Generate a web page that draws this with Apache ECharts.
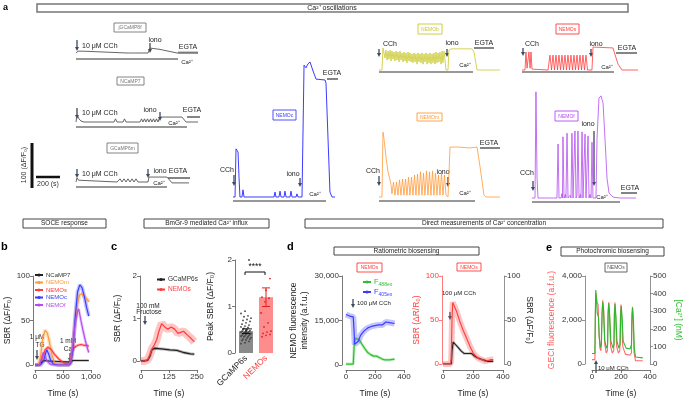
<!DOCTYPE html>
<html><head><meta charset="utf-8">
<script src="https://cdn.jsdelivr.net/npm/echarts@6/dist/echarts.min.js"></script>
<style>html,body{margin:0;padding:0;background:#fff}#c{width:685px;height:400px}</style>
</head><body><div id="c"></div>
<script>
// ---------- DATA ----------
// Panel a traces: [time (s), ΔF/F0]
const traceJGCaMP8f = [[0,0],[17,4],[25,0],[42,4],[50,0],[67,4],[75,0],[425,0],[433,4],[446,0],[458,4],[471,0],[483,4],[496,0],[508,4],[521,0],[600,0],[617,11],[700,8],[842,0],[1017,0]];
const traceNCaMP7 = [[0,0],[8,16],[25,7],[42,2],[67,0],[317,0],[329,7],[342,0],[392,0],[404,7],[417,0],[533,0],[546,7],[558,0],[571,7],[583,0],[596,7],[608,0],[621,7],[633,0],[646,7],[658,0],[671,7],[683,0],[692,0],[700,11],[883,11],[917,0],[1017,0]];
const traceGCaMP6m = [[0,0],[8,9],[21,4],[33,0],[342,0],[350,0],[367,7],[383,0],[400,7],[417,0],[433,7],[450,0],[467,7],[483,0],[500,7],[517,0],[583,0],[600,0],[608,11],[758,11],[800,-2],[942,-2]];
const traceNEMOc = [[0,0],[17,0],[25,107],[33,111],[42,100],[50,44],[58,0],[75,0],[83,16],[92,0],[342,0],[350,11],[358,0],[383,0],[392,13],[400,0],[425,0],[433,13],[442,0],[475,0],[483,13],[492,0],[525,0],[533,7],[542,0],[575,0],[592,293],[608,287],[625,296],[642,300],[667,280],[692,262],[708,260],[767,260],[775,253],[808,11],[825,0],[850,0]];
const traceNEMOb = [[0,0],[25,0],[33,49],[42,47],[50,27],[58,44],[67,22],[75,42],[83,24],[92,44],[100,20],[108,42],[117,24],[125,40],[133,20],[142,42],[150,22],[158,40],[167,18],[175,42],[183,22],[192,38],[200,18],[208,40],[217,20],[225,38],[233,16],[242,40],[250,20],[258,38],[267,18],[275,36],[283,16],[292,38],[300,18],[308,36],[317,13],[325,38],[333,18],[342,36],[350,16],[358,38],[367,13],[375,36],[383,18],[392,38],[400,13],[408,36],[417,16],[425,38],[433,13],[442,36],[450,16],[458,38],[467,13],[475,40],[483,16],[492,38],[500,18],[508,40],[517,13],[525,42],[533,16],[542,42],[550,22],[558,0],[575,0],[583,44],[600,47],[775,47],[792,40],[817,0],[1008,0]];
const traceNEMOs = [[0,0],[25,0],[33,40],[42,4],[50,0],[58,40],[67,4],[75,40],[83,2],[92,0],[217,0],[225,0],[233,33],[246,0],[258,33],[271,0],[283,33],[296,0],[308,33],[321,0],[333,33],[346,0],[358,33],[371,0],[383,33],[396,0],[408,33],[421,0],[433,33],[446,0],[458,33],[471,0],[483,33],[496,0],[508,33],[521,0],[533,33],[546,0],[583,0],[592,51],[758,49],[800,13],[833,0],[967,0]];
const traceNEMOm = [[0,0],[25,0],[33,144],[42,129],[58,89],[75,56],[92,38],[100,27],[108,7],[121,33],[133,4],[146,33],[158,4],[171,38],[183,4],[196,40],[208,4],[221,40],[233,4],[246,44],[258,4],[271,44],[283,4],[296,49],[308,4],[321,51],[333,4],[346,56],[358,4],[371,53],[383,4],[396,58],[408,4],[421,56],[433,4],[446,58],[458,4],[471,53],[483,4],[496,49],[508,4],[521,53],[533,4],[546,49],[558,4],[575,0],[583,4],[592,111],[658,111],[758,109],[817,111],[842,67],[875,4],[892,0],[1008,0]];
const traceNEMOf = [[0,0],[25,0],[33,236],[42,44],[50,0],[208,0],[217,120],[225,0],[242,0],[250,10],[254,0],[258,136],[267,0],[279,8],[283,0],[292,144],[300,0],[317,6],[325,0],[333,144],[342,0],[358,149],[367,0],[375,6],[383,149],[392,0],[404,8],[408,0],[417,147],[425,0],[442,142],[450,0],[467,138],[475,0],[483,8],[492,0],[500,124],[508,0],[533,0],[542,133],[558,222],[575,227],[592,211],[608,133],[625,44],[642,11],[675,2],[733,0],[867,0]];

// Panel b: SOCE response, [time (s), SBR]
const socTicksX = [0, 500, 1000], socTicksY = [0, 50, 100];
const socNCaMP7 = [[0,0],[60,0],[100,2],[150,5],[250,4.5],[400,4],[550,3.5],[620,3.5],[680,5],[800,5],[960,5]];
const socNEMOm = [[0,0],[60,0],[100,10],[140,30],[180,39],[220,36],[260,25],[300,12],[340,4],[380,1],[450,0],[600,0],[640,5],[680,25],[720,50],[760,70],[800,79],[840,80],[880,77],[930,74],[960,71]];
const socNEMOs = [[0,0],[80,0],[130,8],[180,17],[230,20],[280,18],[350,12],[420,7],[500,3],[560,1],[610,1],[640,6],[670,15],[700,20],[760,22],[820,23],[880,22],[930,22],[960,21]];
const socNEMOc = [[0,0],[100,0],[150,4],[190,13],[210,17],[240,13],[280,5],[330,1],[400,0],[600,0],[640,2],[680,20],[720,55],[760,82],[800,90],[840,87],[880,77],[920,65],[960,55]];
const socNEMOf = [[0,0],[80,0],[110,6],[150,14],[180,10],[220,4],[270,1],[320,0],[600,0],[640,3],[680,25],[720,48],[760,60],[780,63],[820,50],[860,38],[900,27],[940,18],[960,14]];

// Panel c: BmGr-9, [time (s), SBR]
const bmTicksX = [0, 125, 250], bmTicksY = [0, 1, 2];
const bmGCaMP6s = [[0,0],[15,0],[30,0.02],[40,0.12],[48,0.26],[60,0.3],[80,0.29],[100,0.28],[130,0.26],[160,0.25],[190,0.2],[220,0.17],[238,0.16]];
const bmNEMOs = [[0,0],[15,0],[30,0.03],[40,0.15],[50,0.3],[60,0.38],[70,0.5],[80,0.7],[92,0.88],[100,0.85],[110,0.78],[120,0.75],[135,0.8],[150,0.75],[165,0.65],[180,0.68],[190,0.7],[205,0.62],[220,0.55],[238,0.45]];
const peakCats = ['GCaMP6s', 'NEMOs'];
const peakMeans = [0.47, 1.2];
const peakErr = [[0.42, 0.52], [1.0, 1.4]];
const peakPtsGCaMP6s = [0.2,0.22,0.25,0.27,0.28,0.3,0.3,0.32,0.33,0.35,0.35,0.36,0.37,0.38,0.38,0.4,0.4,0.41,0.42,0.42,0.43,0.44,0.45,0.45,0.46,0.47,0.48,0.48,0.5,0.5,0.52,0.53,0.55,0.56,0.58,0.6,0.62,0.65,0.68,0.7,0.72,0.75,0.78,0.8,0.85,0.9,2.0];
const peakPtsNEMOs = [0.35,0.38,0.4,0.42,0.45,0.47,0.56,0.65,0.86,1.1,1.18,1.2,1.35,1.6];

// Panel d: ratiometric, [time (s), value]
const ratTicksX = [0, 200, 400];
const ratF488 = [[0,300],[50,300],[55,300],[58,8000],[65,9000],[75,9500],[90,8500],[110,7000],[130,5500],[150,4200],[170,3500],[190,3000],[210,3000],[230,2500],[250,2000],[270,1700],[300,1700],[335,2000]];
const ratF405 = [[0,17000],[25,16500],[50,16200],[55,12000],[60,7000],[70,6500],[85,8000],[100,10000],[125,11500],[150,12500],[175,13000],[200,13300],[225,13500],[250,13500],[275,14500],[300,14300],[335,14000]];
const ratSBR_R = [[0,0],[50,0],[55,5],[60,50],[65,70],[75,68],[90,60],[113,48],[135,38],[158,29],[180,20],[200,13],[220,9],[240,6],[258,5],[280,3],[300,4],[320,5],[335,5]];
const ratSBR_F = [[0,0],[55,0],[60,15],[68,25],[80,24],[100,19],[120,15],[140,12],[165,12],[190,12],[210,9],[230,7],[260,5],[300,3],[335,3]];

// Panel e: photochromic, [time (s), value]
const phoGECI = [[0,200],[20,200],[24,2500],[28,3200],[35,2800],[42,2700],[48,1500],[55,700],[62,600],[68,2000],[74,2900],[80,2500],[88,900],[98,500],[106,600],[110,2200],[115,2800],[120,2300],[128,800],[140,500],[150,600],[154,2200],[158,2800],[163,2200],[170,800],[182,500],[192,600],[196,2200],[200,2700],[205,2100],[212,800],[230,450],[260,400],[272,500],[275,2000],[279,2600],[284,2000],[290,500],[300,150],[350,150]];
const phoCa = [[0,60],[20,60],[23,300],[26,420],[30,380],[36,290],[44,270],[50,150],[58,95],[65,110],[70,300],[74,350],[80,300],[88,130],[100,90],[108,110],[112,300],[116,345],[122,280],[130,130],[145,90],[152,110],[155,300],[159,340],[165,270],[172,130],[185,90],[194,110],[198,290],[202,330],[208,260],[215,130],[235,90],[262,85],[272,110],[276,280],[280,320],[286,240],[292,90],[300,40],[350,35]];

// ---------- BUILD ----------
const FONT = '"Liberation Sans", Arial, Helvetica, sans-serif';
const C = {blue:'#3c3cff', yellow:'#c9c92e', orange:'#ff9a3a', red:'#ff3b3b', purple:'#b44cf0', green:'#2fbf2f', black:'#222', arrow:'#3e4a5e'};
const PX_S = 24/200, PX_U = 45/100; // from scale bar: 200 s and 100 ΔF/F0
const grids = [], xAxes = [], yAxes = [], series = [], G = [], legends = [];

function traceA(data, x0, yb, w, up, color, lw){
  grids.push({left:x0, top:yb-up, width:w, height:up+6});
  const gi = grids.length-1;
  xAxes.push({gridIndex:gi, type:'value', min:0, max:w/PX_S, show:false});
  yAxes.push({gridIndex:gi, type:'value', min:-6/PX_U, max:up/PX_U, show:false});
  series.push({type:'line', xAxisIndex:xAxes.length-1, yAxisIndex:yAxes.length-1, data:data, showSymbol:false, symbol:'none', lineStyle:{color:color, width:lw||0.9}, silent:true});
}
function ax(o){
  const col = o.lineColor || '#555';
  return Object.assign({
    type:'value', splitLine:{show:false},
    axisLine:{show:true, onZero:false, lineStyle:{color:col, width:0.8}},
    axisTick:{show:true, length:3, lineStyle:{color:col, width:0.8}},
    axisLabel:{fontSize:8, color:o.labelColor||'#333', margin:3, fontFamily:FONT, formatter:o.fmt},
    nameLocation:'middle',
    nameTextStyle:{fontSize:8.5, color:o.nameColor||'#222', fontFamily:FONT, lineHeight:11}
  }, o.extra);
}
function lineS(xi, yi, data, color, name, bandW, lw){
  if (bandW) series.push({type:'line', name:name+' band', xAxisIndex:xi, yAxisIndex:yi, data:data, showSymbol:false, symbol:'none', lineStyle:{color:color, width:bandW, opacity:0.3}, z:1});
  series.push({type:'line', name:name, xAxisIndex:xi, yAxisIndex:yi, data:data, showSymbol:false, symbol:'circle', symbolSize:3, itemStyle:{color:color}, lineStyle:{color:color, width:lw||1.2}, z:2});
}
const comma = v => v.toLocaleString('en-US');

// panel a traces
traceA(traceJGCaMP8f, 76, 53, 122, 10, '#555');
traceA(traceNCaMP7, 76, 122, 122, 10, '#555');
traceA(traceGCaMP6m, 76, 182, 113, 10, '#555');
traceA(traceNEMOc, 233, 197, 102, 140, C.blue, 1);
traceA(traceNEMOb, 379, 70, 121, 25, C.yellow, 0.8);
traceA(traceNEMOs, 522, 70, 116, 25, C.red, 0.8);
traceA(traceNEMOm, 379, 197, 121, 70, C.orange, 0.8);
traceA(traceNEMOf, 532, 198, 104, 110, C.purple, 0.8);

// panel b
grids.push({left:35, top:276, width:56, height:91});
let gi = grids.length-1;
xAxes.push(ax({extra:{gridIndex:gi, min:socTicksX[0], max:socTicksX[2], interval:socTicksX[1], offset:5, name:'Time (s)', nameGap:18}, fmt:comma}));
yAxes.push(ax({extra:{gridIndex:gi, min:socTicksY[0], max:socTicksY[2], interval:socTicksY[1], offset:2, name:'SBR (ΔF/F₀)', nameGap:18, nameRotate:90}}));
let xi = xAxes.length-1, yi = yAxes.length-1;
lineS(xi, yi, socNCaMP7, C.black, 'NCaMP7', 2.5, 1.1);
lineS(xi, yi, socNEMOm, C.orange, 'NEMOm', 4, 1.2);
lineS(xi, yi, socNEMOs, C.red, 'NEMOs', 3, 1.2);
lineS(xi, yi, socNEMOc, C.blue, 'NEMOc', 4, 1.2);
lineS(xi, yi, socNEMOf, C.purple, 'NEMOf', 3, 1.2);
legends.push({left:34, top:272, orient:'vertical', itemWidth:8, itemHeight:4, itemGap:1.5, padding:0,
  textStyle:{fontSize:6, fontFamily:FONT, padding:[0,0,0,-2]},
  data:[{name:'NCaMP7',textStyle:{color:'#333'}},{name:'NEMOm',textStyle:{color:C.orange}},{name:'NEMOs',textStyle:{color:C.red}},{name:'NEMOc',textStyle:{color:C.blue}},{name:'NEMOf',textStyle:{color:C.purple}}]});

// panel c line
grids.push({left:141, top:276, width:56, height:87});
gi = grids.length-1;
xAxes.push(ax({extra:{gridIndex:gi, min:bmTicksX[0], max:bmTicksX[2], interval:bmTicksX[1], offset:9, name:'Time (s)', nameGap:18}}));
yAxes.push(ax({extra:{gridIndex:gi, min:bmTicksY[0], max:bmTicksY[2], interval:bmTicksY[1], offset:1, name:'SBR (ΔF/F₀)', nameGap:17, nameRotate:90}}));
xi = xAxes.length-1; yi = yAxes.length-1;
lineS(xi, yi, bmGCaMP6s, C.black, 'GCaMP6s', 3, 1.3);
lineS(xi, yi, bmNEMOs, C.red, 'NEMOs ', 8, 1.2);
legends.push({left:156, top:276, orient:'vertical', itemWidth:8, itemHeight:4, itemGap:3, padding:0,
  textStyle:{fontSize:6.5, fontFamily:FONT, padding:[0,0,0,-2]},
  data:[{name:'GCaMP6s',textStyle:{color:'#333'}},{name:'NEMOs ',textStyle:{color:C.red}}]});

// panel c bars
grids.push({left:236, top:260, width:40, height:93});
gi = grids.length-1;
xAxes.push({gridIndex:gi, type:'category', data:peakCats, axisLine:{show:false}, axisTick:{show:false},
  axisLabel:{rotate:45, fontSize:8.5, fontFamily:FONT, margin:4, color:(v,i)=> i===1 ? C.red : '#222'}});
yAxes.push(ax({extra:{gridIndex:gi, min:bmTicksY[0], max:bmTicksY[2], interval:bmTicksY[1], offset:1, name:'Peak SBR (ΔF/F₀)', nameGap:19, nameRotate:90}}));
xi = xAxes.length-1; yi = yAxes.length-1;
series.push({type:'bar', xAxisIndex:xi, yAxisIndex:yi, barWidth:14, z:1,
  data:peakMeans.map((v,i)=>({value:v, itemStyle:{color: i===0 ? '#8a8a8a' : '#ff8c8c'}}))});
const ptsData = peakPtsGCaMP6s.map(v=>[0,v]).concat(peakPtsNEMOs.map(v=>[1,v]));
series.push({type:'custom', xAxisIndex:xi, yAxisIndex:yi, z:3, data:ptsData,
  renderItem:(p, api)=>{ const c = api.coord([api.value(0), api.value(1)]); const j = (((p.dataIndex*37)%11)-5)*1.0;
    return {type:'circle', shape:{cx:c[0]+j, cy:c[1], r:0.9}, style:{fill: api.value(0)===0 ? '#444' : '#e02020'}}; }});
series.push({type:'custom', xAxisIndex:xi, yAxisIndex:yi, z:4, data:peakErr.map((e,i)=>[i,e[0],e[1]]),
  renderItem:(p, api)=>{ const lo = api.coord([api.value(0), api.value(1)]), hi = api.coord([api.value(0), api.value(2)]); const col = api.value(0)===0 ? '#111' : '#e81e1e'; const w = 4;
    return {type:'group', children:[
      {type:'line', shape:{x1:lo[0],y1:lo[1],x2:hi[0],y2:hi[1]}, style:{stroke:col, lineWidth:1}},
      {type:'line', shape:{x1:lo[0]-w,y1:lo[1],x2:lo[0]+w,y2:lo[1]}, style:{stroke:col, lineWidth:1}},
      {type:'line', shape:{x1:hi[0]-w,y1:hi[1],x2:hi[0]+w,y2:hi[1]}, style:{stroke:col, lineWidth:1}}]}; }});

// panel d left
grids.push({left:346, top:276, width:58, height:91});
gi = grids.length-1;
xAxes.push(ax({extra:{gridIndex:gi, min:ratTicksX[0], max:ratTicksX[2], interval:ratTicksX[1], offset:5, name:'Time (s)', nameGap:18}}));
yAxes.push(ax({extra:{gridIndex:gi, min:0, max:30000, interval:15000, offset:4, name:'NEMO fluorescence\nintensity (a.f.u.)', nameGap:30, nameRotate:90}, fmt:comma}));
xi = xAxes.length-1; yi = yAxes.length-1;
lineS(xi, yi, ratF488, C.green, 'F488ex', 3, 1.2);
lineS(xi, yi, ratF405, C.blue, 'F405ex', 6, 1.2);
legends.push({left:362, top:278, orient:'vertical', itemWidth:8, itemHeight:4, itemGap:1, padding:0,
  formatter: n => 'F{s|' + n.slice(1) + '}',
  textStyle:{fontSize:7.5, fontFamily:FONT, padding:[0,0,0,-2], rich:{s:{fontSize:5, padding:[5,0,0,0]}}},
  data:[{name:'F488ex',textStyle:{color:C.green}},{name:'F405ex',textStyle:{color:C.blue}}]});

// panel d right
grids.push({left:443, top:276, width:60, height:90});
gi = grids.length-1;
xAxes.push(ax({extra:{gridIndex:gi, min:ratTicksX[0], max:ratTicksX[2], interval:ratTicksX[1], offset:6, name:'Time (s)', nameGap:18}}));
yAxes.push(ax({lineColor:'#ff5a5a', labelColor:'#ff4040', nameColor:'#ff4040', extra:{gridIndex:gi, min:0, max:100, interval:50, offset:1, name:'SBR (ΔR/R₀)', nameGap:16, nameRotate:90}}));
yAxes.push(ax({lineColor:'#777', extra:{gridIndex:gi, position:'right', min:0, max:100, interval:50, offset:1, name:'SBR (ΔF/F₀)', nameGap:18, nameRotate:-90}}));
xi = xAxes.length-1;
lineS(xi, yAxes.length-1, ratSBR_F, C.black, 'SBR F', 2.5, 1.1);
lineS(xi, yAxes.length-2, ratSBR_R, C.red, 'SBR R', 6, 1.1);

// panel e
grids.push({left:592, top:276, width:61, height:90});
gi = grids.length-1;
xAxes.push(ax({extra:{gridIndex:gi, min:ratTicksX[0], max:ratTicksX[2], interval:ratTicksX[1], offset:6, name:'Time (s)', nameGap:18}}));
yAxes.push(ax({lineColor:'#777', nameColor:'#ff5a5a', extra:{gridIndex:gi, min:0, max:4000, interval:2000, offset:7, name:'GECI fluorescence (a.f.u.)', nameGap:28, nameRotate:90}, fmt:comma}));
yAxes.push(ax({lineColor:'#777', nameColor:'#2fbf2f', extra:{gridIndex:gi, position:'right', min:0, max:500, interval:100, offset:0, name:'[Ca²⁺] (nM)', nameGap:23, nameRotate:-90}}));
xi = xAxes.length-1;
lineS(xi, yAxes.length-2, phoGECI, '#ff6a6a', 'GECI', 0, 1.1);
lineS(xi, yAxes.length-1, phoCa, '#2db82d', 'Ca', 0, 1.1);

// ---------- ANNOTATIONS ----------
function T(x, y, s, size, color, align, extra){
  G.push(Object.assign({type:'text', x:x, y:y, silent:true, style:{text:s, fontSize:size, fontFamily:FONT, fill:color||'#222',
    align:align||'center', textAlign:align||'center', verticalAlign:'middle', textVerticalAlign:'middle', fontWeight:(extra&&extra.bold)?'bold':'normal'}}, extra&&extra.el));
}
function R(x, y, w, h, stroke, lw){ G.push({type:'rect', silent:true, shape:{x:x, y:y, width:w, height:h}, style:{fill:'none', stroke:stroke||'#555', lineWidth:lw||1}}); }
function L(x1, y1, x2, y2, stroke, lw){ G.push({type:'line', silent:true, shape:{x1:x1, y1:y1, x2:x2, y2:y2}, style:{stroke:stroke||'#333', lineWidth:lw||1.2}}); }
function A(x, y1, y2){ // arrow from y1 to y2 (head at y2)
  const d = y2 > y1 ? 1 : -1;
  L(x, y1, x, y2 - d*3, C.arrow, 1.3);
  G.push({type:'polygon', silent:true, shape:{points:[[x-2, y2-d*4],[x+2, y2-d*4],[x, y2]]}, style:{fill:C.arrow}});
}
function box(x, y, w, h, s, color){ R(x, y, w, h, color, 0.9); T(x+w/2, y+h/2+0.3, s, 5, color); }

// banners & panel letters
R(37, 4, 591, 8, '#777', 1.5); T(332, 8, 'Ca²⁺ oscillations', 7);
T(3, 8, 'a', 9, '#000', 'left', {bold:true});
R(23, 219, 83, 9, '#444', 1); T(64.5, 223.7, 'SOCE response', 6.5);
R(144, 219, 125, 9, '#444', 1); T(206.5, 223.7, 'BmGr-9 mediated Ca²⁺ influx', 6.5);
R(305, 219, 358, 9, '#444', 1); T(484, 223.7, 'Direct measurements of Ca²⁺ concentration', 6.5);
R(334, 247, 145, 8, '#444', 1); T(406.5, 251.2, 'Ratiometric biosensing', 6.5);
R(561, 247, 103, 9, '#444', 1); T(612.5, 251.7, 'Photochromic biosensing', 6.5);
T(1, 247, 'b', 11, '#000', 'left', {bold:true});
T(111, 247, 'c', 11, '#000', 'left', {bold:true});
T(287, 247, 'd', 11, '#000', 'left', {bold:true});
T(546, 248, 'e', 11, '#000', 'left', {bold:true});

// scale bar
L(32, 143, 32, 188, '#111', 3); L(36, 177, 60, 177, '#111', 2.5);
T(24, 165, '100 (ΔF/F₀)', 7, '#333', 'center', {el:{rotation:Math.PI/2}});
T(48, 184, '200 (s)', 7, '#333');

// panel a labels
box(114, 23, 32, 9, 'jGCaMP8f', '#777');
box(117, 77, 27, 8, 'NCaMP7', '#777');
box(107, 143, 31, 10, 'GCaMP6m', '#777');
box(273, 110, 23, 10, 'NEMOc', C.blue);
box(418, 24, 24, 10, 'NEMOb', C.yellow);
box(417, 113, 25, 8, 'NEMOm', C.orange);
box(556, 24, 23, 10, 'NEMOs', C.red);
box(555, 111, 23, 10, 'NEMOf', C.purple);

const FS = 7;
// jGCaMP8f
L(76, 59, 178, 59, '#333', 1.2); L(178, 52.5, 198, 52.5, '#999', 2);
T(82, 46, '10 μM CCh', FS, '#222', 'left'); A(77, 40, 51); T(155, 40, 'iono', FS); A(150, 43, 53); T(188, 47, 'EGTA', FS); T(187, 62, 'Ca²⁺', 6);
// NCaMP7
L(76, 127, 187, 127, '#333', 1.2); L(187, 117, 200, 117, '#333', 1.2);
T(82, 113, '10 μM CCh', FS, '#222', 'left'); A(77, 108, 119); T(150, 110, 'iono', FS); A(160, 112, 121); T(192, 110, 'EGTA', FS); T(174, 123, 'Ca²⁺', 6);
// GCaMP6m
L(76, 187, 167, 187, '#333', 1.2); L(168, 178, 190, 178, '#333', 1.2);
T(82, 174, '10 μM CCh', FS, '#222', 'left'); A(77, 169, 178); T(160, 171, 'iono', FS); A(148, 169, 178); T(178, 171, 'EGTA', FS); T(159, 183, 'Ca²⁺', 6);
// NEMOc
L(233, 201, 326, 201, '#333', 1.2); L(327, 79, 338, 79, '#333', 1.2);
T(227, 170, 'CCh', FS); A(234, 175, 186); T(293, 174, 'iono', FS); A(300, 178, 187); T(332, 73, 'EGTA', FS); T(315, 194, 'Ca²⁺', 6);
// NEMOb
L(379, 72, 473, 72, '#333', 1.2); L(474, 48, 494, 48, '#333', 1.2);
T(390, 44, 'CCh', FS); A(379, 49, 57); T(452, 43, 'iono', FS); A(447, 49, 57); T(484, 43, 'EGTA', FS); T(465, 65, 'Ca²⁺', 6);
// NEMOs
L(522, 72, 614, 72, '#333', 1.2); L(616, 53, 637, 53, '#333', 1.2);
T(532, 44, 'CCh', FS); A(523, 48, 56); T(596, 44, 'iono', FS); A(591, 49, 57); T(627, 48, 'EGTA', FS); T(607, 67, 'Ca²⁺', 6);
// NEMOm
L(379, 201, 475, 201, '#333', 1.2); L(480, 148, 500, 148, '#333', 1.2);
T(373, 171, 'CCh', FS); A(379, 176, 186); T(443, 172, 'iono', FS); A(448, 177, 187); T(489, 143, 'EGTA', FS); T(465, 193, 'Ca²⁺', 6);
// NEMOf
L(532, 202, 620, 202, '#333', 1.2); L(621, 193, 637, 193, '#333', 1.2);
T(527, 173, 'CCh', FS); A(533, 181, 191); T(588, 124, 'iono', FS); A(594, 131, 186); T(630, 188, 'EGTA', FS); T(602, 197, 'Ca²⁺', 6);

// panel b annotations
T(37, 337, '1 μM', 6.5); T(40, 345, 'TG', 6.5); A(37, 350, 360);
T(68, 341, '1 mM', 6.5); T(70, 349, 'Ca²⁺', 6.5); A(70, 353, 362);
// panel c annotations
T(148, 306, '100 mM', 6.5); T(149, 312.5, 'Fructose', 6.5); A(145, 316, 325);
T(255, 267, '****', 8.5, '#111'); L(245, 272, 265, 272, '#111', 1); L(245, 272, 245, 275, '#111', 1); L(265, 272, 265, 275, '#111', 1);
// panel d annotations
box(357, 263, 25, 9, 'NEMOs', C.red);
box(457, 263, 24, 8, 'NEMOs', C.red);
T(357, 303, '100 μM CCh', 6, '#222', 'left'); A(353, 299, 308);
T(442, 293, '100 μM CCh', 6, '#222', 'left'); A(450, 312, 320);
// panel e annotations
box(605, 263, 22, 9, 'NEMOs', '#555');
T(598, 368, '10 μM CCh', 6, '#222', 'left'); A(596, 373, 360);

const chart = echarts.init(document.getElementById('c'), null, {renderer:'canvas'});
chart.setOption({
  animation:false, backgroundColor:'#fff', textStyle:{fontFamily:FONT},
  grid:grids, xAxis:xAxes, yAxis:yAxes, series:series, legend:legends, graphic:{elements:G}
});
</script></body></html>
